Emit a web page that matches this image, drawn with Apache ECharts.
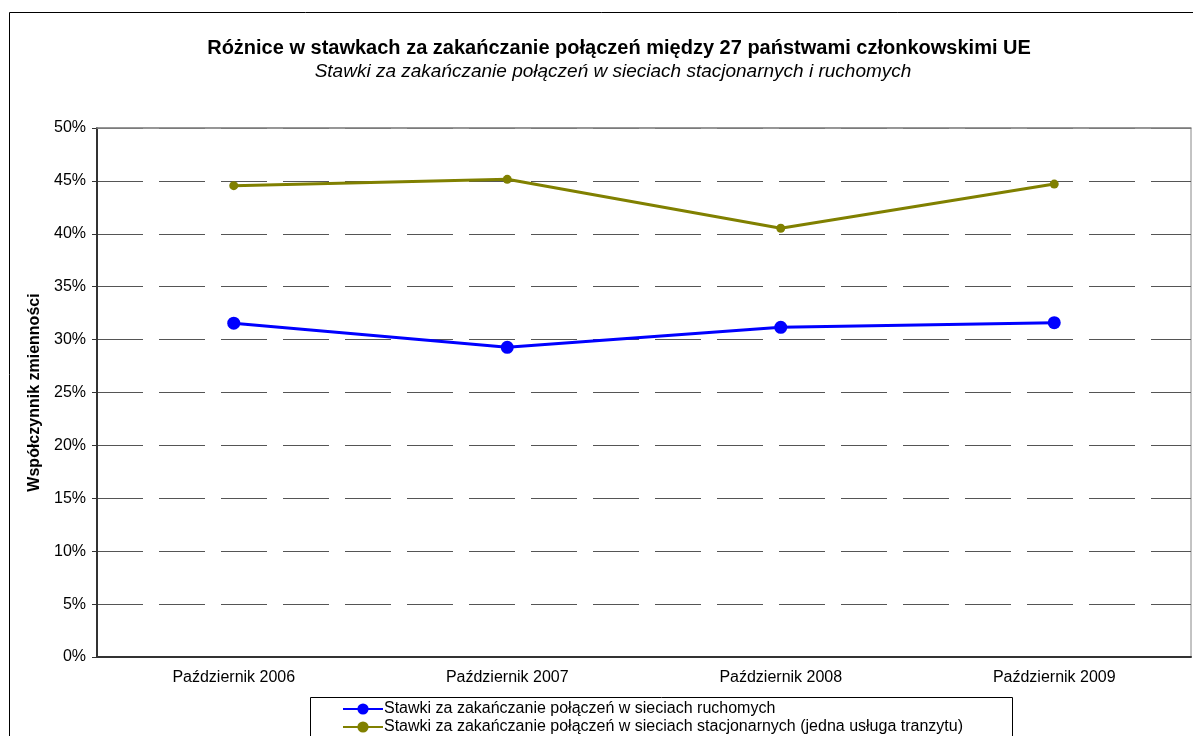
<!DOCTYPE html>
<html>
<head>
<meta charset="utf-8">
<script src="https://cdn.jsdelivr.net/npm/echarts@6/dist/echarts.min.js"></script>
<style>
  html, body { margin: 0; padding: 0; background: #fff; }
  #chart { width: 1193px; height: 736px; }
</style>
</head>
<body>
<div id="chart"></div>
<script>
// kategorie osi X
var categories = ['Październik 2006', 'Październik 2007', 'Październik 2008', 'Październik 2009']
// stawki w sieciach ruchomych (%)
var mobileRates = [31.55, 29.27, 31.16, 31.6]
// stawki w sieciach stacjonarnych (%)
var fixedRates = [44.55, 45.15, 40.52, 44.7]
var seriesNames = [
  'Stawki za zakańczanie połączeń w sieciach ruchomych',
  'Stawki za zakańczanie połączeń w sieciach stacjonarnych (jedna usługa tranzytu)'
]

var chart = echarts.init(document.getElementById('chart'))
var font = 'Liberation Sans, Arial, sans-serif'

// jedna legenda na serię, żeby pozycje ułożyły się jedna pod drugą
function makeLegend (name, top) {
  return {
    data: [name],
    left: 342,
    top: top,
    padding: 0,
    itemWidth: 40,
    itemHeight: 14,
    textStyle: { fontSize: 16, color: '#000', fontFamily: font, padding: [0, 0, 0, -4] }
  }
}

chart.setOption({
  animation: false,
  textStyle: { fontFamily: font },
  graphic: [
    // ramka wykresu
    {
      type: 'rect',
      shape: { x: 9.5, y: 12.5, width: 1200, height: 740 },
      style: { fill: 'none', stroke: '#000', lineWidth: 1 },
      silent: true
    },
    // ramka legendy
    {
      type: 'rect',
      shape: { x: 310.5, y: 697.5, width: 702, height: 60 },
      style: { fill: 'none', stroke: '#000', lineWidth: 1 },
      silent: true
    }
  ],
  title: [
    {
      text: 'Różnice w stawkach za zakańczanie połączeń między 27 państwami członkowskimi UE',
      left: 614,
      textAlign: 'center',
      top: 33,
      textStyle: { fontSize: 20, fontWeight: 'bold', color: '#000', fontFamily: font }
    },
    {
      text: 'Stawki za zakańczanie połączeń w sieciach stacjonarnych i ruchomych',
      left: 608,
      textAlign: 'center',
      top: 57,
      textStyle: { fontSize: 19, fontWeight: 'normal', fontStyle: 'italic', color: '#000', fontFamily: font }
    }
  ],
  legend: [makeLegend(seriesNames[0], 701), makeLegend(seriesNames[1], 719)],
  grid: {
    left: 97,
    right: 2,
    top: 128,
    bottom: 79,
    show: true,
    borderColor: '#888',
    borderWidth: 1
  },
  xAxis: [
    {
      type: 'category',
      data: categories,
      boundaryGap: true,
      axisLine: { lineStyle: { color: '#333', width: 2 } },
      axisTick: { length: 5, lineStyle: { color: '#333' } },
      axisLabel: { fontSize: 16, color: '#000', margin: 13, fontFamily: font }
    },
    {
      // górna krawędź obszaru wykresu
      type: 'category',
      data: categories,
      position: 'top',
      z: 5,
      axisLine: { lineStyle: { color: '#888', width: 1.5 } },
      axisTick: { show: false },
      axisLabel: { show: false }
    }
  ],
  yAxis: {
    type: 'value',
    min: 0,
    max: 50,
    interval: 5,
    name: 'Współczynnik zmienności',
    nameLocation: 'middle',
    nameGap: 53,
    nameTextStyle: { fontSize: 16, fontWeight: 'bold', color: '#000', fontFamily: font },
    axisLine: { show: true, lineStyle: { color: '#333', width: 2 } },
    axisTick: { show: true, length: 5, lineStyle: { color: '#333' } },
    axisLabel: { fontSize: 16, color: '#000', margin: 11, formatter: '{value}%', fontFamily: font },
    splitLine: { lineStyle: { color: '#555', width: 1, type: [46, 16] } }
  },
  series: [
    {
      name: seriesNames[0],
      type: 'line',
      data: mobileRates,
      symbol: 'circle',
      symbolSize: 13,
      color: '#0000ff',
      lineStyle: { width: 3, color: '#0000ff' },
      itemStyle: { color: '#0000ff' }
    },
    {
      name: seriesNames[1],
      type: 'line',
      data: fixedRates,
      symbol: 'circle',
      symbolSize: 9,
      color: '#808000',
      lineStyle: { width: 3, color: '#808000' },
      itemStyle: { color: '#808000' }
    }
  ]
})
</script>
</body>
</html>
